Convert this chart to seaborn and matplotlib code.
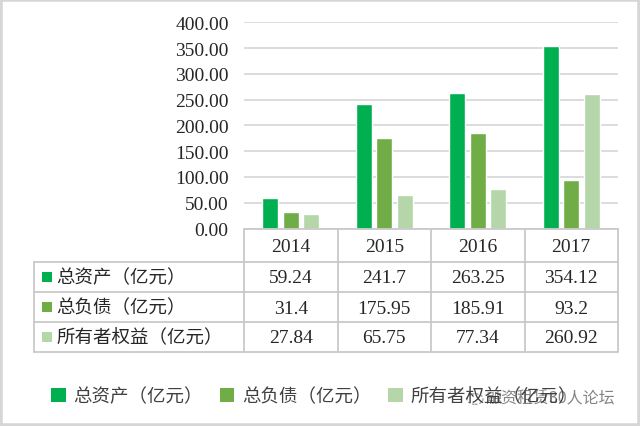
import matplotlib
matplotlib.use("Agg")
import matplotlib.pyplot as plt
import seaborn as sns
import pandas as pd
from matplotlib.patches import Patch, Rectangle, Circle
from matplotlib.lines import Line2D
from matplotlib.transforms import blended_transform_factory

# ---------------- data ----------------
years = ["2014", "2015", "2016", "2017"]
series_names = ["总资产（亿元）", "总负债（亿元）", "所有者权益（亿元）"]
total_assets = [59.24, 241.7, 263.25, 354.12]
total_liabilities = [31.4, 175.95, 185.91, 93.2]
owner_equity = [27.84, 65.75, 77.34, 260.92]
y_ticks = [0, 50, 100, 150, 200, 250, 300, 350, 400]
y_tick_labels = ["0.00", "50.00", "100.00", "150.00", "200.00",
                 "250.00", "300.00", "350.00", "400.00"]
watermark = "融资租赁30人论坛"

colors = ["#00B050", "#70AD47", "#B4D6A8"]
grid_c = "#D9D9D9"
table_c = "#C9C9C9"

series_values = [total_assets, total_liabilities, owner_equity]
df = pd.DataFrame(
    [(y, s, v[i]) for s, v in zip(series_names, series_values) for i, y in enumerate(years)],
    columns=["year", "series", "value"],
)

sns.set_theme(style="white")
plt.rcParams["font.family"] = ["Liberation Serif", "Noto Sans CJK SC", "DejaVu Sans"]

W, H = 640, 427
fig = plt.figure(figsize=(W / 100, H / 100), dpi=100)

# axes geometry in pixels
ax_l, ax_r, ax_t, ax_b = 244, 618, 23.3, 229.5
ax = fig.add_axes([ax_l / W, 1 - ax_b / H, (ax_r - ax_l) / W, (ax_b - ax_t) / H])

sns.barplot(data=df, x="year", y="value", hue="series", palette=colors,
            width=0.66, gap=0.22, saturation=1, legend=False, ax=ax)

ax.set_xlim(-0.5, len(years) - 0.5)
ax.set_ylim(0, 400)
ax.set_yticks(y_ticks)
ax.set_yticklabels(y_tick_labels, fontsize=14, color="#262626")
ax.set_xticks([])
ax.set_xlabel("")
ax.set_ylabel("")
ax.tick_params(axis="y", length=0, pad=11)
for s in ax.spines.values():
    s.set_visible(False)
ax.yaxis.grid(True, color=grid_c, lw=1.3)
ax.set_axisbelow(True)

# ---------------- data table ----------------
axh = ax_b - ax_t
axw = ax_r - ax_l
def ay(px):
    return -(px - ax_b) / axh
def axx(px):
    return (px - ax_l) / axw

bt = blended_transform_factory(ax.transData, ax.transAxes)
row_edges = [229.5, 262.7, 293.0, 323.0, 352.5]
left_px = 34

def line(xs, ys, tr):
    ax.add_line(Line2D(xs, ys, transform=tr, color=table_c, lw=1.3, clip_on=False))

# horizontal lines
line([0, 1], [ay(row_edges[0])] * 2, ax.transAxes)
for e in row_edges[1:]:
    line([axx(left_px), 1], [ay(e)] * 2, ax.transAxes)
# vertical lines
for i in range(len(years) + 1):
    xb = i - 0.5
    line([xb, xb], [ay(row_edges[0]), ay(row_edges[-1])], bt)
line([axx(left_px)] * 2, [ay(row_edges[1]), ay(row_edges[-1])], ax.transAxes)

# header
for i, y in enumerate(years):
    ax.text(i, ay((row_edges[0] + row_edges[1]) / 2 + 1), y, transform=bt,
            ha="center", va="center", fontsize=14, color="#262626")

# rows
for r, (name, vals, c) in enumerate(zip(series_names, series_values, colors)):
    yc = (row_edges[r + 1] + row_edges[r + 2]) / 2
    ax.add_patch(Rectangle((axx(42), ay(yc + 5)), 10 / axw, 10 / axh,
                           transform=ax.transAxes, facecolor=c, edgecolor="none",
                           clip_on=False))
    ax.text(axx(56), ay(yc), name, transform=ax.transAxes, ha="left", va="center",
            fontsize=13.3, color="#262626",
            family=["Noto Sans CJK SC", "DejaVu Sans"])
    for i, v in enumerate(vals):
        ax.text(i, ay(yc + 1), str(v), transform=bt, ha="center", va="center",
                fontsize=14, color="#262626")

# ---------------- legend ----------------
handles = [Patch(facecolor=c, edgecolor="none") for c in colors]
leg = fig.legend(handles, series_names, loc="center", ncol=3,
                 bbox_to_anchor=(314 / W, 1 - 397 / H), frameon=False,
                 handlelength=0.8, handleheight=0.8, handletextpad=0.4,
                 columnspacing=0.9,
                 prop={"family": ["Noto Sans CJK SC", "DejaVu Sans"], "size": 13.3})
for t in leg.get_texts():
    t.set_color("#404040")

# watermark
fig.text(485 / W, 1 - 399 / H, watermark, ha="left", va="center", fontsize=11.5,
         color="#6f6f6f", alpha=0.85, family=["Noto Sans CJK SC", "DejaVu Sans"])
fig.patches.append(Circle((475 / W, 1 - 400 / H), 8 / W, transform=fig.transFigure,
                          fill=False, edgecolor="#9a9a9a", lw=0.9, ls=(0, (2, 1.5))))

# outer border
fig.patches.append(Rectangle((0, 0), 1, 1, transform=fig.transFigure, fill=False,
                             edgecolor="#D6D6D6", lw=4))

fig.savefig("out.png", dpi=100)
